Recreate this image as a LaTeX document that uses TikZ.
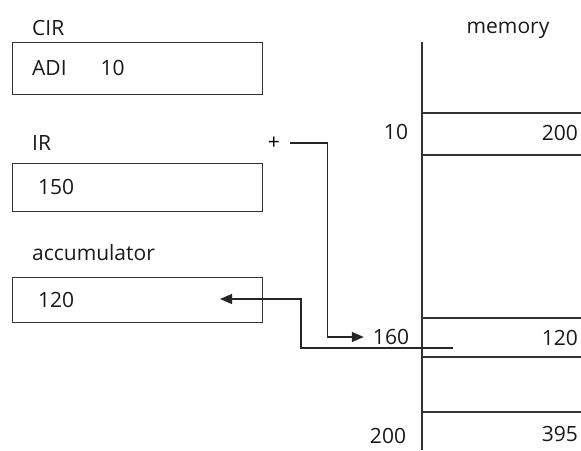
\documentclass[tikz,border=0pt]{standalone}
\usepackage{fontspec}
\setmainfont{Open Sans}
\usetikzlibrary{positioning, arrows.meta, calc}

\begin{document}
\begin{tikzpicture}[
  x=1pt, y=-1pt,
  >=Stealth,
  lbl/.style={anchor=west, inner sep=0pt, font=\fontsize{21}{24}\selectfont, text=black!90},
  reg/.style={draw=black!80, line width=1.3pt, minimum width=250pt, minimum height=#1,
              anchor=north west, inner sep=0pt},
  val/.style={anchor=west, inner sep=0pt, font=\fontsize{21}{24}\selectfont, text=black!90},
  addr/.style={inner xsep=9pt, inner ysep=0pt, font=\fontsize{21}{24}\selectfont, text=black!90},
  cell/.style={draw=black!80, line width=1.3pt},
  arr/.style={-{Triangle[length=12pt, width=10pt]}, line width=1.3pt, draw=black!85},
]
\useasboundingbox (0,0) rectangle (581,450);

% --- Registers ---
\node[lbl] (cirl) at (32,28) {CIR};
\node[reg=52pt] (cir) at (12,42) {};
\node[val] (cirv) at (32,68) {ADI\hspace{34pt}10};

\node[lbl] (irl) at (32,143) {IR};
\node[reg=48pt] (ir) at (12,163) {};
\node[val] (irv) at (38,187) {150};

\node[lbl] (accl) at (32,253) {accumulator};
\node[reg=45pt] (acc) at (12,277) {};
\node[val] (accv) at (38,300) {120};
\coordinate (accin) at (220,299);

\node[inner xsep=10pt, inner ysep=0pt, font=\fontsize{21}{24}\selectfont] (plus) at (274,143) {+};

% --- Memory ---
\node[font=\fontsize{21}{24}\selectfont, text=black!90] (meml) at (508,30) {memory};
\coordinate (mtop) at (422,42);
\coordinate (mbot) at (422,450);
\draw[cell] (mtop) -- (mbot);
\foreach \y in {113,155,318,357,412}
  \draw[cell] (422,\y) -- (581,\y);

\node[addr] (a10) at (396,132) {10};
\node[addr] (a160) at (391,337) {160};
\node[addr] (a200) at (388,436) {200};
\node[addr, anchor=east, inner xsep=0pt] (m10) at (578,133) {200};
\node[addr, anchor=east, inner xsep=0pt] (m160) at (578,338) {120};
\node[addr, anchor=east, inner xsep=0pt] (m200) at (578,434) {395};
\coordinate (tail) at (453,348);

% --- Arrows ---
\draw[arr] (plus.east) -- ++(37,0) |- (a160.west);
\draw[arr] (tail) -- ++(-152,0) |- (accin);

\end{tikzpicture}
\end{document}
